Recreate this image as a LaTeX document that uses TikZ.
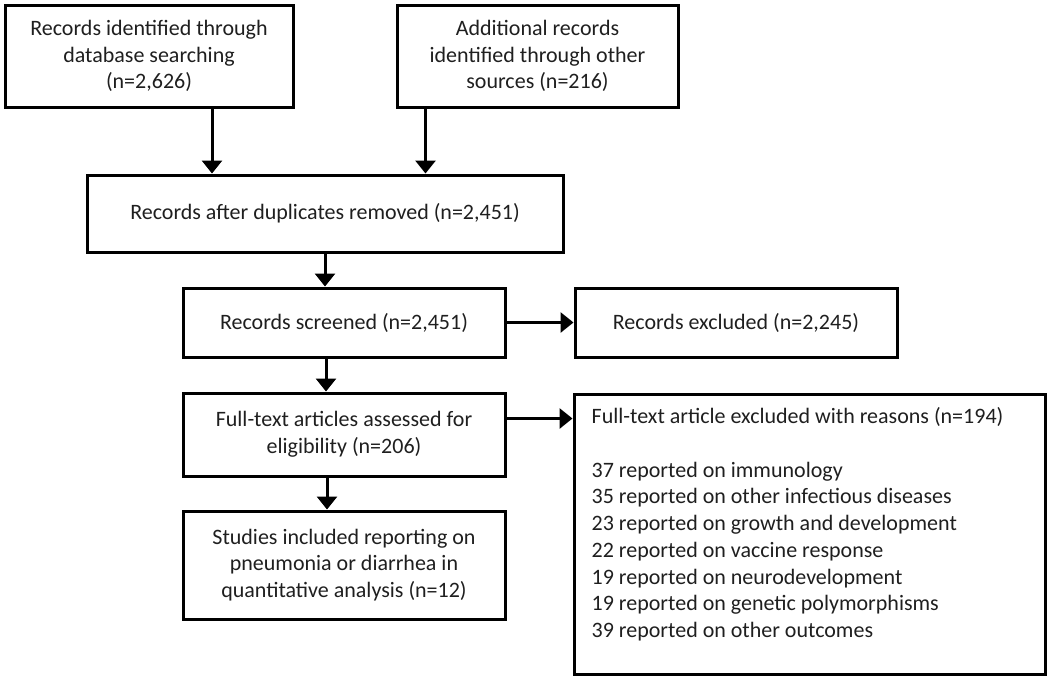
\documentclass[tikz,border=0pt]{standalone}
\usepackage{fontspec}
\setmainfont{Carlito}
\usepackage{tikz}
\usetikzlibrary{arrows.meta}
\usetikzlibrary{calc}
\definecolor{inktext}{gray}{0.12}

\begin{document}
\begin{tikzpicture}[x=1pt, y=-1pt,
% define styles here
flowbox/.style={rectangle, draw, line width=3pt, align=center, inner sep=0pt, text=inktext, font=\fontsize{22}{26.7}\selectfont},
flowarrow/.style={line width=3pt, -{Triangle[width=20pt,length=13pt]}}
]
\useasboundingbox (0,0) rectangle (1050,678);

% identification
\node[flowbox, minimum width=288pt, minimum height=102pt] (search) at (149,56)
  {Records identified through\\database searching\\(n=2,626)};
\node[flowbox, minimum width=281pt, minimum height=102pt] (other) at (537.5,56)
  {Additional records\\identified through other\\sources (n=216)};

% screening
\node[flowbox, minimum width=476pt, minimum height=77pt] (dup) at (325,213.5)
  {Records after duplicates removed (n=2,451)};
\node[flowbox, minimum width=322pt, minimum height=69pt] (screen) at (344,322.5)
  {Records screened (n=2,451)};
\node[flowbox, minimum width=322pt, minimum height=69pt] (excl) at (736,322.5)
  {Records excluded (n=2,245)};

% eligibility
\node[flowbox, minimum width=322pt, minimum height=83pt] (full) at (344,434.5)
  {Full-text articles assessed for\\eligibility (n=206)};
\node[flowbox, minimum width=471pt, minimum height=280pt] (reasons) at (809.5,534) {};
\node[anchor=north west, align=left, inner sep=0pt, text=inktext, font=\fontsize{22}{26.7}\selectfont] (reasontext)
  at ([xshift=19pt,yshift=-15pt]reasons.north west)
  {Full-text article excluded with reasons (n=194)\\[26.7pt]
   37 reported on immunology\\
   35 reported on other infectious diseases\\
   23 reported on growth and development\\
   22 reported on vaccine response\\
   19 reported on neurodevelopment\\
   19 reported on genetic polymorphisms\\
   39 reported on other outcomes};

% included
\node[flowbox, minimum width=322pt, minimum height=108pt] (incl) at (344,565)
  {Studies included reporting on\\pneumonia or diarrhea in\\quantitative analysis (n=12)};

\draw[flowarrow] ([xshift=63pt]search.south) -- ([xshift=63pt]search.south |- dup.north);
\draw[flowarrow] ([xshift=-112pt]other.south) -- ([xshift=-112pt]other.south |- dup.north);
\draw[flowarrow] (dup.south) -- (dup.south |- screen.north);
\draw[flowarrow] (screen.east) -- (excl.west);
\draw[flowarrow] ([xshift=-18pt]screen.south) -- ([xshift=-18pt]screen.south |- full.north);
\draw[flowarrow] ([yshift=16pt]full.east) -- ([yshift=16pt]full.east -| reasons.west);
\draw[flowarrow] ([xshift=-17pt]full.south) -- ([xshift=-17pt]full.south |- incl.north);
\end{tikzpicture}
\end{document}
